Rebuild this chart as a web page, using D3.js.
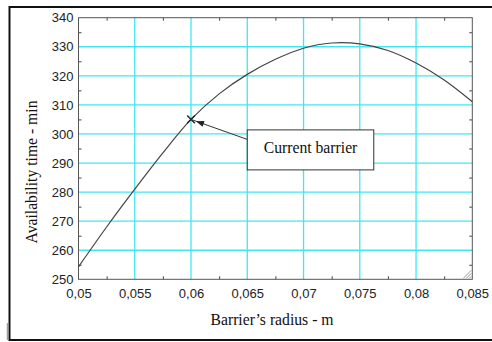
<!DOCTYPE html>
<html>
<head>
<meta charset="utf-8">
<script src="https://cdn.jsdelivr.net/npm/d3@7"></script>
<style>
  body { margin: 0; background: #fff; }
  svg { display: block; }
</style>
</head>
<body>
<div id="chart"></div>
<script>
// values
var radius = [0.05, 0.0525, 0.055, 0.0575, 0.06, 0.0625, 0.065, 0.0675, 0.07, 0.0725, 0.075, 0.0775, 0.08, 0.0825, 0.085];
var availability = [254.3, 268, 281, 293.5, 305, 313.8, 320.5, 325.7, 329.5, 331.3, 331.0, 328.7, 324.4, 318.6, 311.1];

var xTicks = [0.05, 0.055, 0.06, 0.065, 0.07, 0.075, 0.08, 0.085];
var yTicks = [250, 260, 270, 280, 290, 300, 310, 320, 330, 340];
var xMinor = [0.0525, 0.0575, 0.0625, 0.0675, 0.0725, 0.0775, 0.0825];
var yMinor = [255, 265, 275, 285, 295, 305, 315, 325, 335];

var current = { r: 0.06, t: 305, label: "Current barrier" };
var labelBox = { r: 0.065, t: 301.4 };

var W = 492, H = 342;
var margin = { top: 17.7, right: 19.7, bottom: 62.7, left: 78.5 },
    width = W - margin.left - margin.right,
    height = H - margin.top - margin.bottom;

var comma = function(v) { return String(+v.toFixed(4)).replace(".", ","); };

var svg = d3.select("#chart")
    .append("svg")
    .attr("width", W)
    .attr("height", H);

// outer frame (runs off the right edge)
svg.append("path")
    .attr("d", "M" + (W + 5) + ",7 H9.5 V340 H" + (W + 5))
    .style("fill", "none")
    .style("stroke", "#111")
    .style("stroke-width", 2);
svg.append("line")
    .attr("x1", 7.3).attr("x2", 7.3)
    .attr("y1", 323).attr("y2", 340)
    .style("stroke", "#888")
    .style("stroke-width", 1);

var g = svg.append("g")
    .attr("transform", "translate(" + margin.left + "," + margin.top + ")");

var x = d3.scaleLinear().domain([0.05, 0.085]).range([0, width]);
var y = d3.scaleLinear().domain([250, 340]).range([height, 0]);

// grid
g.append("g")
    .selectAll("line")
    .data(xTicks.slice(1, -1))
    .enter()
    .append("line")
    .attr("x1", function(d) { return x(d); })
    .attr("x2", function(d) { return x(d); })
    .attr("y1", 0)
    .attr("y2", height)
    .style("stroke", "#3ee8f2")
    .style("stroke-width", 1.3);

g.append("g")
    .selectAll("line")
    .data(yTicks.slice(1, -1))
    .enter()
    .append("line")
    .attr("x1", 0)
    .attr("x2", width)
    .attr("y1", function(d) { return y(d); })
    .attr("y2", function(d) { return y(d); })
    .style("stroke", "#3ee8f2")
    .style("stroke-width", 1.3);

// minor ticks on all four sides, pointing inward
var tickStyle = function(sel) {
    sel.select(".domain").remove();
    sel.selectAll(".tick line").style("stroke", "#444");
    sel.selectAll(".tick text").remove();
};
g.append("g")
    .attr("transform", "translate(0," + height + ")")
    .call(d3.axisBottom(x).tickValues(xMinor).tickSize(-3))
    .call(tickStyle);
g.append("g")
    .call(d3.axisTop(x).tickValues(xMinor).tickSize(-3))
    .call(tickStyle);
g.append("g")
    .call(d3.axisLeft(y).tickValues(yMinor).tickSize(-3))
    .call(tickStyle);
g.append("g")
    .attr("transform", "translate(" + width + ",0)")
    .call(d3.axisRight(y).tickValues(yMinor).tickSize(-3))
    .call(tickStyle);

// tick labels
g.append("g")
    .attr("transform", "translate(0," + height + ")")
    .call(d3.axisBottom(x).tickValues(xTicks).tickSize(0).tickPadding(9).tickFormat(comma))
    .call(function(s) {
        s.select(".domain").remove();
        s.selectAll("text")
            .style("font-family", "'Liberation Sans', Arial, sans-serif")
            .style("font-size", "13px")
            .style("fill", "#222");
    });
g.append("g")
    .call(d3.axisLeft(y).tickValues(yTicks).tickSize(0).tickPadding(5))
    .call(function(s) {
        s.select(".domain").remove();
        s.selectAll("text")
            .style("font-family", "'Liberation Sans', Arial, sans-serif")
            .style("font-size", "13px")
            .style("fill", "#222");
    });

// plot border
g.append("rect")
    .attr("width", width)
    .attr("height", height)
    .style("fill", "none")
    .style("stroke", "#555")
    .style("stroke-width", 1);

// resize grip in the corner
g.append("g")
    .selectAll("line")
    .data([3, 6, 9])
    .enter()
    .append("line")
    .attr("x1", function(d) { return width - d; })
    .attr("y1", height - 1)
    .attr("x2", width - 1)
    .attr("y2", function(d) { return height - d; })
    .style("stroke", "#999")
    .style("stroke-width", 1);

// curve
var line = d3.line()
    .x(function(d, i) { return x(radius[i]); })
    .y(function(d) { return y(d); })
    .curve(d3.curveCatmullRom);

g.append("path")
    .datum(availability)
    .attr("d", line)
    .style("fill", "none")
    .style("stroke", "#444")
    .style("stroke-width", 1.2);

// current barrier marker
g.append("path")
    .attr("d", d3.symbol().type(d3.symbolX).size(40)())
    .attr("transform", "translate(" + x(current.r) + "," + y(current.t) + ")")
    .style("fill", "none")
    .style("stroke", "#222")
    .style("stroke-width", 1.4);

// label box
var bx = x(labelBox.r), by = y(labelBox.t);
g.append("rect")
    .attr("x", bx)
    .attr("y", by)
    .attr("width", 126.5)
    .attr("height", 40)
    .style("fill", "#fff")
    .style("stroke", "#333")
    .style("stroke-width", 1);
g.append("text")
    .attr("x", bx + 63.25)
    .attr("y", by + 23.5)
    .attr("text-anchor", "middle")
    .style("font-family", "'Liberation Serif', 'Times New Roman', serif")
    .style("font-size", "15.7px")
    .style("fill", "#111")
    .text(current.label);

// arrow from box to marker
var ax = x(current.r), ay = y(current.t);
var sx = bx, sy = by + 9.5;
var ang = Math.atan2(ay - sy, ax - sx);
var tipX = ax - 5.3 * Math.cos(ang), tipY = ay - 5.3 * Math.sin(ang);
g.append("line")
    .attr("x1", sx).attr("y1", sy)
    .attr("x2", tipX + 6 * Math.cos(ang)).attr("y2", tipY + 6 * Math.sin(ang))
    .style("stroke", "#333")
    .style("stroke-width", 1);
var hl = 8, hw = 3;
g.append("path")
    .attr("d", "M" + tipX + "," + tipY +
        "L" + (tipX - hl * Math.cos(ang) + hw * Math.sin(ang)) + "," + (tipY - hl * Math.sin(ang) - hw * Math.cos(ang)) +
        "L" + (tipX - hl * Math.cos(ang) - hw * Math.sin(ang)) + "," + (tipY - hl * Math.sin(ang) + hw * Math.cos(ang)) + "Z")
    .style("fill", "#222");

// axis titles
svg.append("text")
    .attr("transform", "translate(37," + 172 + ") rotate(-90)")
    .attr("text-anchor", "middle")
    .style("font-family", "'Liberation Serif', 'Times New Roman', serif")
    .style("font-size", "15.7px")
    .style("fill", "#111")
    .text("Availability time - min");

svg.append("text")
    .attr("x", 272)
    .attr("y", 325)
    .attr("text-anchor", "middle")
    .style("font-family", "'Liberation Serif', 'Times New Roman', serif")
    .style("font-size", "15.7px")
    .style("fill", "#111")
    .text("Barrier\u2019s radius - m");
</script>
</body>
</html>
